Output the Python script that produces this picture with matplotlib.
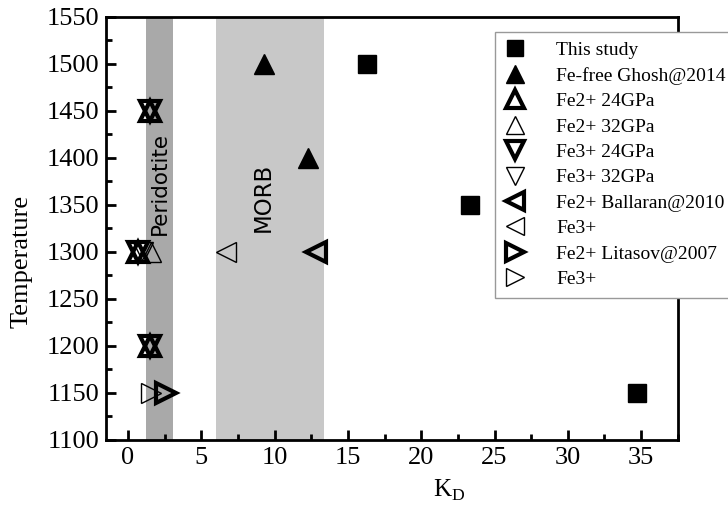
import matplotlib
matplotlib.use('Agg')
import matplotlib.pyplot as plt
from matplotlib.ticker import MultipleLocator

# ---- data (K_D, temperature) ----
study_kd = [16.3, 23.3, 34.7]
study_t = [1500, 1350, 1150]

ghosh_kd = [9.3, 12.3]
ghosh_t = [1500, 1400]

fe2_24_kd = [1.5, 0.65, 1.5]
fe2_24_t = [1450, 1300, 1200]
fe2_32_kd = [1.6]
fe2_32_t = [1300]
fe3_24_kd = [1.5, 0.65, 1.5]
fe3_24_t = [1450, 1300, 1200]
fe3_32_kd = [1.0]
fe3_32_t = [1300]

ballaran_fe2_kd = [12.8]
ballaran_fe2_t = [1300]
ballaran_fe3_kd = [6.7]
ballaran_fe3_t = [1300]

litasov_fe2_kd = [2.6]
litasov_fe2_t = [1150]
litasov_fe3_kd = [1.6]
litasov_fe3_t = [1150]

peridotite_band = (1.2, 3.1)
morb_band = (6.0, 13.4)

plt.rcParams['font.family'] = ['Liberation Serif', 'DejaVu Serif']
plt.rcParams['mathtext.fontset'] = 'custom'
plt.rcParams['mathtext.rm'] = 'Liberation Serif'

fig = plt.figure(figsize=(7.28, 5.11), dpi=100)
ax = fig.add_axes([0.1456, 0.139, 0.7854, 0.828])

ax.axvspan(*peridotite_band, color='#a9a9a9', lw=0, zorder=0)
ax.axvspan(*morb_band, color='#c8c8c8', lw=0, zorder=0)

ax.text(sum(peridotite_band) / 2, 1373, 'Peridotite', rotation=90, ha='center', va='center',
        fontsize=15.5, family='DejaVu Sans')
ax.text(9.2, 1358, 'MORB', rotation=90, ha='center', va='center',
        fontsize=16.5, family='DejaVu Sans')

ms = 15
ax.plot(study_kd, study_t, 's', color='black', ms=13, label='This study')
ax.plot(ghosh_kd, ghosh_t, '^', color='black', ms=ms, label='Fe-free Ghosh@2014')
ax.plot(fe2_24_kd, fe2_24_t, '^', mfc='none', mec='black', mew=3, ms=ms, label='Fe2+ 24GPa')
ax.plot(fe2_32_kd, fe2_32_t, '^', mfc='none', mec='black', mew=1, ms=ms, label='Fe2+ 32GPa')
ax.plot(fe3_24_kd, fe3_24_t, 'v', mfc='none', mec='black', mew=3, ms=ms, label='Fe3+ 24GPa')
ax.plot(fe3_32_kd, fe3_32_t, 'v', mfc='none', mec='black', mew=1, ms=ms, label='Fe3+ 32GPa')
ax.plot(ballaran_fe2_kd, ballaran_fe2_t, '<', mfc='none', mec='black', mew=3, ms=ms, label='Fe2+ Ballaran@2010')
ax.plot(ballaran_fe3_kd, ballaran_fe3_t, '<', mfc='none', mec='black', mew=1, ms=ms, label='Fe3+')
ax.plot(litasov_fe2_kd, litasov_fe2_t, '>', mfc='none', mec='black', mew=3, ms=ms, label='Fe2+ Litasov@2007')
ax.plot(litasov_fe3_kd, litasov_fe3_t, '>', mfc='none', mec='black', mew=1, ms=ms, label='Fe3+')

ax.set_xlim(-1.5, 37.5)
ax.set_ylim(1100, 1550)
ax.xaxis.set_major_locator(MultipleLocator(5))
ax.xaxis.set_minor_locator(MultipleLocator(2.5))
ax.yaxis.set_major_locator(MultipleLocator(50))
ax.yaxis.set_minor_locator(MultipleLocator(25))
ax.tick_params(which='both', direction='in', width=2, labelsize=19)
ax.tick_params(which='major', length=7, pad=5)
ax.tick_params(which='minor', length=4)
for lbl in ax.get_xticklabels() + ax.get_yticklabels():
    lbl.set_fontfamily('Liberation Serif')
for s in ax.spines.values():
    s.set_linewidth(2)

ax.set_xlabel('K$_\\mathrm{D}$', fontsize=18)
ax.set_ylabel('Temperature', fontsize=19)
ax.xaxis.set_label_coords(0.60, -0.09)
ax.yaxis.set_label_coords(-0.128, 0.423)

leg = ax.legend(loc='upper left', bbox_to_anchor=(0.68, 0.9645), borderaxespad=0,
                fontsize=14, frameon=True, fancybox=False, edgecolor='#999999', framealpha=1,
                labelspacing=0.4, handlelength=1.06, handletextpad=1.6, borderpad=0.5,
                markerscale=0.85)
leg.get_frame().set_linewidth(1)
leg.set_clip_on(False)

fig.savefig('out.png', dpi=100, facecolor='white')
